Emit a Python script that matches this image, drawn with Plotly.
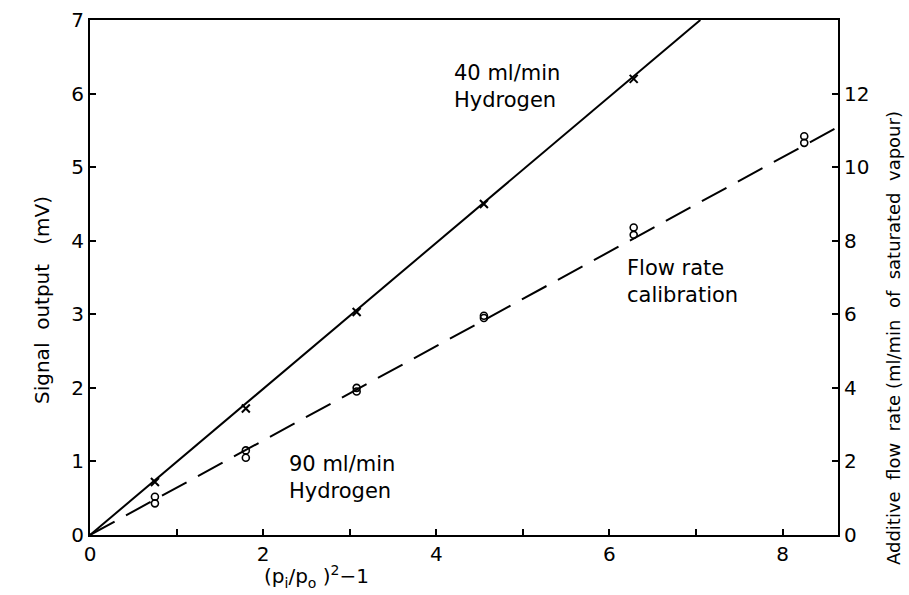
import plotly.graph_objects as go

# Data
x_h40 = [0.75, 1.8, 3.08, 4.55, 6.28]
y_h40 = [0.72, 1.72, 3.03, 4.50, 6.20]
line_h40_x = [0.0, 7.05]
line_h40_y = [0.0, 7.0]

x_h90 = [0.75, 1.8, 3.08, 4.55, 6.28, 8.25]
y_h90_a = [0.52, 1.15, 2.00, 2.98, 4.18, 5.42]
y_h90_b = [0.43, 1.05, 1.95, 2.95, 4.08, 5.33]
line_h90_x = [0.0, 8.6]
line_h90_y = [0.0, 5.52]

x_ticks = [0, 2, 4, 6, 8]
y_ticks = [0, 1, 2, 3, 4, 5, 6, 7]
y2_ticks = [0, 2, 4, 6, 8, 10, 12]

FONT = "DejaVu Sans"
BLACK = "black"
L, R, T, B = 90, 71, 20, 60
PW, PH = 909 - L - R, 595 - T - B

fig = go.Figure()
fig.add_trace(go.Scatter(x=line_h40_x, y=line_h40_y, mode="lines",
                         line=dict(color=BLACK, width=2), showlegend=False))
fig.add_trace(go.Scatter(x=x_h40, y=y_h40, mode="markers",
                         marker=dict(symbol="x-thin", size=8, color=BLACK,
                                     line=dict(width=2, color=BLACK)), showlegend=False))
fig.add_trace(go.Scatter(x=line_h90_x, y=line_h90_y, mode="lines",
                         line=dict(color=BLACK, width=2, dash="28px,13px"), showlegend=False))
fig.add_trace(go.Scatter(x=x_h90 + x_h90, y=y_h90_a + y_h90_b, mode="markers",
                         marker=dict(symbol="circle-open", size=7, color=BLACK,
                                     line=dict(width=1.6, color=BLACK)), showlegend=False))
fig.add_trace(go.Scatter(x=[0], y=[0], yaxis="y2", mode="markers",
                         marker=dict(opacity=0), showlegend=False, hoverinfo="skip"))

fig.update_layout(
    width=909, height=595,
    margin=dict(l=L, r=R, t=T, b=B, autoexpand=False),
    paper_bgcolor="white", plot_bgcolor="white",
    font=dict(family=FONT, color=BLACK, size=18),
    xaxis=dict(range=[0, 8.64], tickvals=x_ticks, ticks="inside", ticklen=6,
               tickwidth=1.5, tickcolor=BLACK, showline=True, linecolor=BLACK,
               linewidth=2, mirror=True, showgrid=False, zeroline=False,
               tickfont=dict(size=20), automargin=False,
               minor=dict(dtick=1, tick0=0, ticks="inside", ticklen=6,
                          tickcolor=BLACK, showgrid=False)),
    yaxis=dict(range=[0, 7], tickvals=y_ticks, ticks="inside", ticklen=6,
               tickwidth=1.5, tickcolor=BLACK, showline=True, linecolor=BLACK,
               linewidth=2, showgrid=False, zeroline=False, tickfont=dict(size=20),
               automargin=False),
    yaxis2=dict(range=[0, 14], tickvals=y2_ticks, overlaying="y", side="right",
                ticks="inside", ticklen=6, tickwidth=1.5, tickcolor=BLACK,
                showline=True, linecolor=BLACK, linewidth=2, showgrid=False,
                zeroline=False, tickfont=dict(size=20), automargin=False),
)

annos = [
    dict(text="40 ml/min<br>Hydrogen", x=452, y=86),
    dict(text="Flow rate<br>calibration", x=625, y=281),
    dict(text="90 ml/min<br>Hydrogen", x=287, y=477),
]
for a in annos:
    fig.add_annotation(text=a["text"], xref="paper", yref="paper",
                       x=(a["x"] - L) / PW, y=1 - (a["y"] - T) / PH,
                       xanchor="left", yanchor="middle", align="left",
                       showarrow=False, font=dict(size=21, family=FONT))

fig.add_annotation(text="(p<sub>i</sub>/p<sub>o</sub> )<sup>2</sup>−1",
                   xref="paper", yref="paper",
                   x=(316 - L) / PW, y=-(576 - 535) / PH,
                   xanchor="center", yanchor="middle", showarrow=False,
                   font=dict(size=20, family=FONT))
fig.add_annotation(text="Signal  output   (mV)", xref="paper", yref="paper",
                   x=-(L - 42) / PW, y=1 - (300 - T) / PH, textangle=-90,
                   xanchor="center", yanchor="middle", showarrow=False,
                   font=dict(size=20, family=FONT))
fig.add_annotation(text="Additive  flow  rate (ml/min  of  saturated  vapour)",
                   xref="paper", yref="paper",
                   x=1 + (893 - 838) / PW, y=1 - (338 - T) / PH, textangle=-90,
                   xanchor="center", yanchor="middle", showarrow=False,
                   font=dict(size=18, family=FONT))

fig.write_html("out.html", config={"displayModeBar": False},
               post_script="document.body.style.margin='0';")
